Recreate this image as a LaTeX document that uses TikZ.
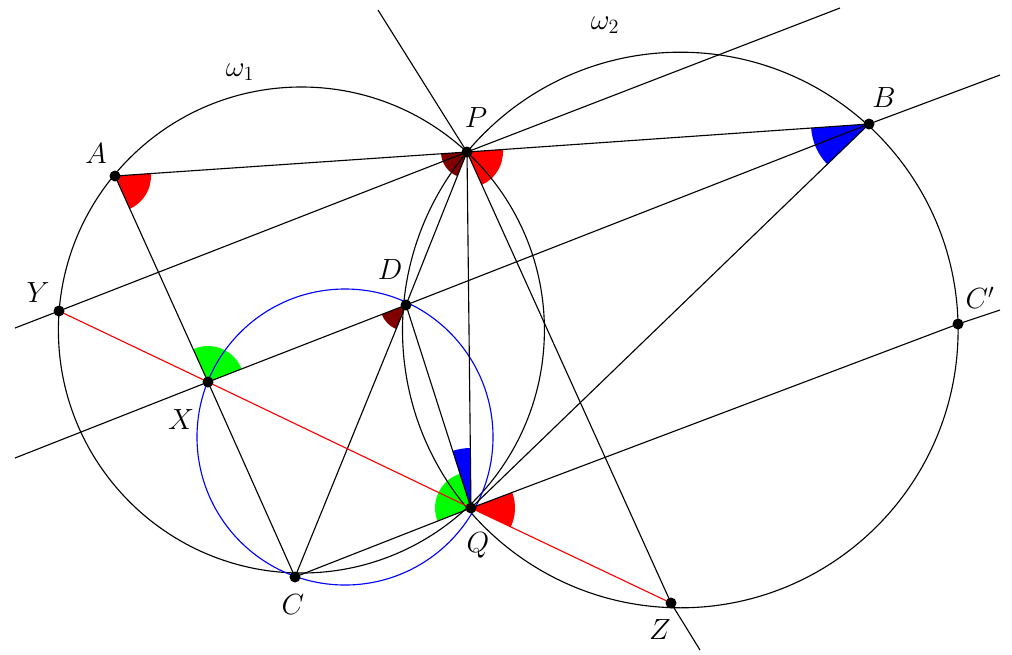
\documentclass[tikz,border=0pt]{standalone}
\usetikzlibrary{angles}
\tikzset{pt/.style={fill=black}, mark/.style={draw=none,angle radius=#1}}
\begin{document}
\begin{tikzpicture}[x=0.025cm,y=-0.025cm,line width=0.8pt,every node/.style={font=\fontsize{22}{24}\selectfont}]
\useasboundingbox (0,0) rectangle (1012,654);
\coordinate (P) at (467,152);
\coordinate (Q) at (471,508);
\coordinate (A) at (115,176);
\coordinate (B) at (869,124);
\coordinate (C) at (295,577);
\coordinate (D) at (406,305);
\coordinate (X) at (208,382);
\coordinate (Y) at (59,311);
\coordinate (Z) at (671,603);
\coordinate (Cp) at (958,324);
% angle marks
\pic[mark=0.9cm,fill=red]{angle=X--A--P};
\pic[mark=0.9cm,fill=red]{angle=Z--P--B};
\pic[mark=0.65cm,fill=red!50!black]{angle=A--P--D};
\pic[mark=1.45cm,fill=blue]{angle=P--B--Q};
\pic[mark=0.65cm,fill=red!50!black]{angle=X--D--C};
\pic[mark=0.9cm,fill=green]{angle=D--X--A};
\pic[mark=1.5cm,fill=blue]{angle=P--Q--D};
\pic[mark=0.9cm,fill=green]{angle=D--Q--C};
\pic[mark=1.1cm,fill=red]{angle=Z--Q--Cp};
% circles
\draw (301.4,330) circle (243);
\draw (680.3,330) circle (277.8);
\draw[blue] (345,437) circle (148);
% lines
\draw (15,328) -- (Y) -- (P) -- (840,8);
\draw (15,458) -- (X) -- (D) -- (B) -- (1000,75);
\draw (C) -- (Q) -- (Cp) -- (1000,310);
\draw (378,10) -- (P) -- (Z) -- (700,650);
\draw (A) -- (P) -- (B);
\draw (A) -- (X) -- (C);
\draw (P) -- (D) -- (C);
\draw (D) -- (Q) -- (P);
\draw (B) -- (Q);
\draw[red] (Y) -- (X) -- (Q) -- (Z);
% points
\foreach \p in {P,Q,A,B,C,D,X,Y,Z,Cp}
  \fill[pt] (\p) circle (5.5);
\node at (240,72) {$\omega_1$};
\node at (605,25) {$\omega_2$};
\node at (96,154) {$A$};
\node at (476,118) {$P$};
\node at (884,98) {$B$};
\node at (38,293) {$Y$};
\node at (390,270) {$D$};
\node at (181,420) {$X$};
\node at (293,605) {$C$};
\node at (478,545) {$Q$};
\node at (660,630) {$Z$};
\node at (980,298) {$C'$};
\end{tikzpicture}
\end{document}
